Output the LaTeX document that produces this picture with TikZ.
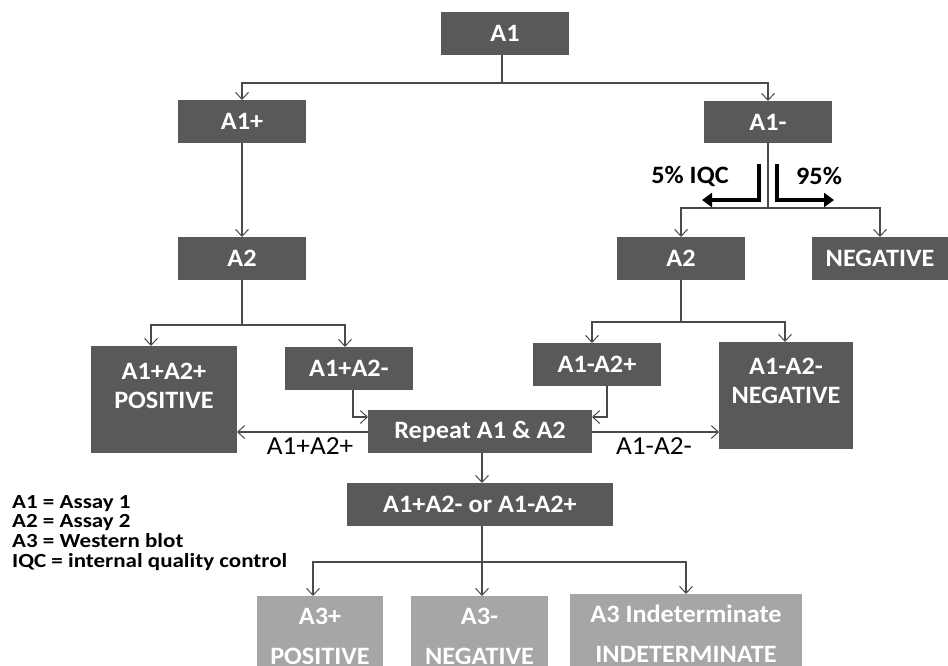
\documentclass[tikz,border=0pt]{standalone}
\usepackage{fontspec}
\setmainfont{Carlito}
\newfontfamily\boxfont{Carlito}[FakeStretch=1.05]
\newfontfamily\legfont{Carlito}[FakeStretch=1.15]
\usetikzlibrary{arrows.meta}
\definecolor{dark}{HTML}{595959}
\definecolor{light}{HTML}{A6A6A6}
\definecolor{linec}{HTML}{4A4A4A}
\begin{document}
\begin{tikzpicture}[x=1pt,y=-1pt,
  box/.style={fill=dark,inner sep=0pt,outer sep=0pt},
  lbox/.style={fill=light,inner sep=0pt,outer sep=0pt},
  btext/.style={text=white,font=\boxfont\fontsize{25}{29}\selectfont\bfseries,align=center,inner sep=0pt},
  ltext/.style={text=white,font=\boxfont\fontsize{25}{40}\selectfont\bfseries,align=center,inner sep=0pt},
  conn/.style={draw=linec,line width=1.1pt},
  arr/.style={conn,-{Straight Barb[length=7pt,width=13pt,line width=1pt]}},
  thick arr/.style={draw=black,line width=3.2pt,-{Triangle[length=10pt,width=14pt]}},
  lab/.style={font=\boxfont\fontsize{26}{29}\selectfont,inner sep=0pt},
  blab/.style={font=\boxfont\fontsize{25}{29}\selectfont\bfseries,inner sep=0pt},
  leg/.style={font=\legfont\fontsize{20}{19.7}\selectfont\bfseries,align=left,inner sep=0pt,anchor=north west}]
\useasboundingbox (0,0) rectangle (948,665);
\clip (0,0) rectangle (948,665);
% boxes
\node[box,minimum width=128,minimum height=43] (A1) at (505,33.5) {};
\node[btext] at (A1) {A1};
\node[box,minimum width=128,minimum height=43] (A1p) at (242,121.5) {};
\node[btext] at (A1p) {A1+};
\node[box,minimum width=128,minimum height=42] (A1m) at (768,122) {};
\node[btext] at (A1m) {A1-};
\node[box,minimum width=128,minimum height=43] (A2l) at (242,258.5) {};
\node[btext] at (A2l) {A2};
\node[box,minimum width=128,minimum height=43] (A2r) at (681,258.5) {};
\node[btext] at (A2r) {A2};
\node[box,minimum width=136,minimum height=43] (neg) at (880,258.5) {};
\node[btext] at (neg) {NEGATIVE};
\node[box,minimum width=146,minimum height=107] (pos) at (164,399.5) {};
\node[btext] at (164,386) {A1+A2+\\POSITIVE};
\node[box,minimum width=128,minimum height=43] (pm) at (349,368.5) {};
\node[btext] at (pm) {A1+A2-};
\node[box,minimum width=128,minimum height=43] (mp) at (597,364.5) {};
\node[btext] at (mp) {A1-A2+};
\node[box,minimum width=134,minimum height=107] (nn) at (786,395.5) {};
\node[btext] at (786,381) {A1-A2-\\NEGATIVE};
\node[box,minimum width=224,minimum height=43] (rep) at (480,431.5) {};
\node[btext] at (rep) {Repeat A1 \& A2};
\node[box,minimum width=266,minimum height=43] (or) at (480,504.5) {};
\node[btext] at (or) {A1+A2- or A1-A2+};
\node[lbox,minimum width=126,minimum height=100,anchor=north] (b1) at (320,596) {};
\node[ltext] at (320,636) {A3+\\POSITIVE};
\node[lbox,minimum width=137,minimum height=100,anchor=north] (b2) at (479.5,596) {};
\node[ltext] at (479.5,636) {A3-\\NEGATIVE};
\node[lbox,minimum width=232,minimum height=100,anchor=north] (b3) at (686,594) {};
\node[ltext] at (686,634) {A3 Indeterminate\\INDETERMINATE};
% coordinates
\coordinate (t1) at (502,83);
\coordinate (t2) at (768,208);
\coordinate (t3) at (242,325);
\coordinate (t4) at (681,322);
\coordinate (t5) at (482,562);
% connectors from A1
\draw[conn] (A1.south -| t1) -- (t1);
\draw[arr] (t1) -| (A1p.north);
\draw[arr] (t1) -| (A1m.north);
\draw[arr] (A1p) -- (A2l);
% A1- branch
\draw[conn] (A1m.south) -- (t2);
\draw[arr] (t2) -| (A2r.north);
\draw[arr] (t2) -| (neg.north);
% thick arrows
\coordinate (k1) at (759,164);
\coordinate (k2) at (777,164);
\draw[thick arr] (k1) |- (702,200);
\draw[thick arr] (k2) |- (834,200);
\node[blab] (iqc) at (690,176) {5\% IQC};
\node[blab] (nf) at (819,176) {95\%};
% left A2 branch
\draw[conn] (A2l.south) -- (t3);
\draw[arr] (t3) -| (151,346);
\draw[arr] (t3) -| (345,347);
% right A2 branch
\draw[conn] (A2r.south) -- (t4);
\draw[arr] (t4) -| (592,343);
\draw[arr] (t4) -| (785,342);
% into repeat
\draw[arr] (353,390) |- (rep.west |- 0,417);
\draw[arr] (607,386) |- (rep.east |- 0,417);
% out of repeat
\draw[arr] (rep.west |- 0,432) -- (pos.east |- 0,432);
\draw[arr] (rep.east |- 0,432) -- (nn.west |- 0,432);
\node[lab] (l1) at (310,446) {A1+A2+};
\node[lab] (l2) at (654,446) {A1-A2-};
\draw[arr] (rep.south -| t5) -- (or.north -| t5);
% bottom branch
\draw[conn] (or.south -| t5) -- (t5);
\draw[arr] (t5) -| (313,596);
\draw[arr] (t5) -- (482,596);
\draw[arr] (t5) -| (686,594);
% legend
\node[leg] (legend) at (12,495) {A1 = Assay 1\\A2 = Assay 2\\A3 = Western blot\\IQC = internal quality control};
\end{tikzpicture}
\end{document}
